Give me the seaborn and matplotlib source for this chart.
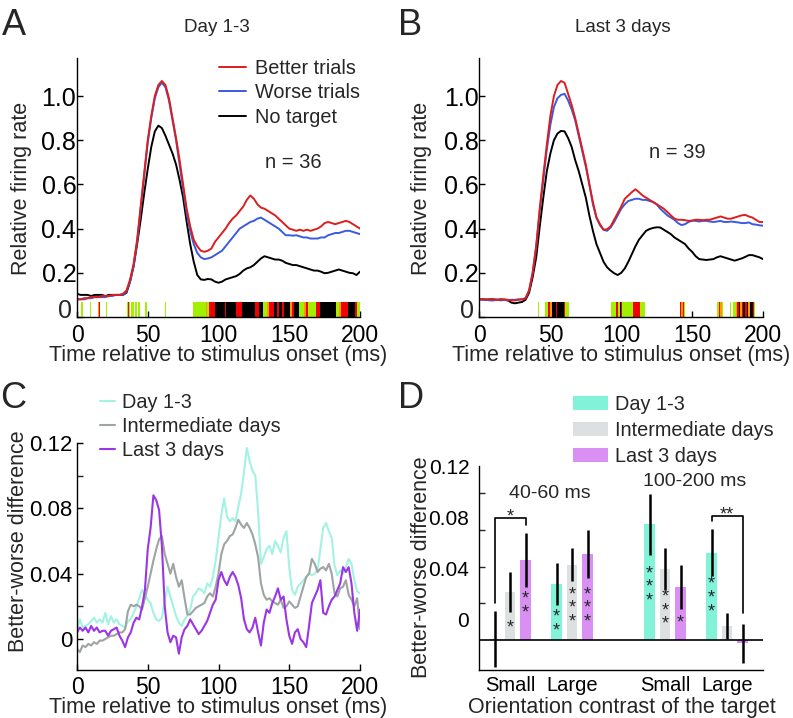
import numpy as np
import pandas as pd
import matplotlib
matplotlib.use("Agg")
import matplotlib.pyplot as plt
import seaborn as sns
from matplotlib.patches import Patch
from matplotlib.lines import Line2D

# ---------------- data ----------------
t_ab = np.arange(0, 200.1, 2.5)   # ms grid for panels A and B
t_c = np.arange(0, 200.1, 2.0)    # ms grid for panel C

a_better = [0.080,0.080,0.085,0.085,0.090,0.090,0.090,0.095,0.095,0.095,
            0.100,0.100,0.100,0.105,0.120,0.170,0.240,0.350,0.500,0.650,
            0.800,0.910,1.000,1.050,1.068,1.050,0.990,0.900,0.810,0.710,
            0.600,0.490,0.410,0.350,0.320,0.300,0.295,0.300,0.310,0.340,
            0.360,0.380,0.400,0.425,0.445,0.460,0.480,0.500,0.530,0.550,
            0.535,0.510,0.495,0.490,0.480,0.470,0.460,0.445,0.430,0.415,
            0.400,0.395,0.390,0.395,0.390,0.395,0.390,0.395,0.400,0.410,
            0.425,0.430,0.425,0.420,0.425,0.430,0.435,0.430,0.420,0.410,
            0.400]
a_worse = [0.080,0.080,0.080,0.085,0.085,0.090,0.090,0.090,0.090,0.095,
           0.095,0.100,0.100,0.100,0.115,0.160,0.230,0.340,0.490,0.640,
           0.790,0.900,0.990,1.040,1.060,1.040,0.980,0.890,0.800,0.690,
           0.580,0.470,0.390,0.330,0.290,0.270,0.262,0.265,0.270,0.280,
           0.290,0.300,0.320,0.340,0.360,0.380,0.400,0.410,0.420,0.430,
           0.435,0.445,0.450,0.440,0.430,0.420,0.410,0.400,0.385,0.370,
           0.370,0.368,0.370,0.365,0.360,0.360,0.355,0.355,0.355,0.360,
           0.360,0.370,0.375,0.380,0.380,0.385,0.390,0.390,0.385,0.380,
           0.375]
a_notarget = [0.105,0.100,0.100,0.100,0.095,0.100,0.100,0.100,0.095,0.100,
              0.100,0.100,0.100,0.100,0.110,0.160,0.230,0.330,0.440,0.560,
              0.670,0.770,0.840,0.866,0.855,0.820,0.780,0.740,0.690,0.620,
              0.540,0.430,0.330,0.250,0.190,0.170,0.168,0.172,0.170,0.160,
              0.155,0.160,0.170,0.175,0.180,0.185,0.195,0.210,0.220,0.225,
              0.235,0.250,0.265,0.275,0.270,0.265,0.260,0.260,0.255,0.245,
              0.240,0.235,0.235,0.230,0.225,0.220,0.215,0.210,0.210,0.205,
              0.198,0.200,0.205,0.210,0.215,0.210,0.205,0.200,0.198,0.190,
              0.205]

b_better = [0.080,0.080,0.080,0.080,0.078,0.078,0.078,0.080,0.078,0.075,
            0.075,0.078,0.080,0.085,0.120,0.200,0.320,0.490,0.640,0.780,
            0.910,1.000,1.050,1.068,1.060,1.010,0.960,0.900,0.830,0.760,
            0.690,0.600,0.520,0.450,0.420,0.395,0.397,0.410,0.440,0.470,
            0.500,0.535,0.550,0.565,0.578,0.565,0.550,0.540,0.530,0.520,
            0.510,0.500,0.490,0.475,0.460,0.445,0.440,0.440,0.438,0.435,
            0.436,0.440,0.440,0.438,0.440,0.440,0.445,0.450,0.455,0.450,
            0.445,0.445,0.450,0.455,0.460,0.462,0.455,0.450,0.440,0.430,
            0.430]
b_worse = [0.080,0.078,0.078,0.075,0.075,0.078,0.075,0.078,0.075,0.078,
           0.078,0.080,0.080,0.085,0.120,0.200,0.320,0.480,0.620,0.760,
           0.870,0.950,0.990,1.005,1.010,0.980,0.940,0.890,0.820,0.750,
           0.680,0.600,0.510,0.450,0.415,0.395,0.390,0.405,0.430,0.460,
           0.490,0.510,0.525,0.530,0.535,0.535,0.530,0.530,0.525,0.520,
           0.510,0.490,0.475,0.460,0.450,0.440,0.425,0.416,0.420,0.430,
           0.436,0.435,0.432,0.435,0.435,0.432,0.430,0.432,0.435,0.430,
           0.430,0.432,0.430,0.428,0.425,0.425,0.428,0.420,0.418,0.415,
           0.413]
b_notarget = [0.080,0.080,0.078,0.080,0.080,0.078,0.080,0.078,0.075,0.065,
              0.062,0.065,0.068,0.078,0.110,0.180,0.270,0.410,0.540,0.660,
              0.740,0.800,0.830,0.842,0.840,0.810,0.770,0.710,0.660,0.600,
              0.540,0.460,0.390,0.330,0.290,0.250,0.225,0.210,0.198,0.190,
              0.200,0.220,0.250,0.285,0.320,0.350,0.370,0.390,0.398,0.403,
              0.406,0.405,0.395,0.385,0.375,0.360,0.350,0.340,0.330,0.310,
              0.295,0.275,0.262,0.260,0.258,0.260,0.262,0.270,0.275,0.270,
              0.265,0.260,0.255,0.260,0.265,0.272,0.280,0.280,0.275,0.270,
              0.262]

# significance strips (start ms, end ms, colour code)
a_strip = [(3.0,4.0,'g'),(9.3,10.2,'g'),(14.8,15.2,'o'),(15.2,16.0,'r'),(20.6,21.4,'g'),
           (35.0,35.8,'g'),(35.8,36.5,'r'),(36.5,37.6,'g'),(38.5,40.3,'g'),(40.9,42.3,'g'),
           (43.0,44.4,'g'),(47.8,49.2,'g'),(61.9,62.6,'g'),
           (82.0,91.4,'g'),(91.4,92.2,'o'),(92.2,93.0,'g'),(93.0,97.5,'r'),
           (97.5,104.5,'k'),(104.5,105.3,'r'),(105.3,112.5,'k'),(112.5,116.5,'r'),
           (116.5,125.5,'k'),(125.5,128.8,'r'),(128.8,131.5,'k'),(131.5,134.5,'g'),
           (134.5,135.5,'o'),(135.5,139.5,'r'),(139.5,141.0,'k'),(141.0,142.5,'r'),
           (142.5,145.0,'k'),(145.0,146.5,'r'),(146.5,150.5,'k'),(150.5,152.0,'o'),
           (152.0,153.5,'r'),(153.5,157.0,'k'),(157.0,160.5,'g'),(160.5,161.5,'o'),
           (161.5,163.5,'r'),(163.5,169.0,'g'),(169.0,172.0,'r'),(172.0,183.0,'k'),
           (183.0,185.5,'g'),(185.5,186.5,'o'),(186.5,191.5,'r'),(191.5,196.5,'k'),
           (196.5,198.0,'r'),(198.0,200.5,'g')]
b_strip = [(41.0,42.0,'g'),(46.0,48.5,'g'),(48.5,49.5,'r'),(49.5,51.0,'o'),(51.0,54.0,'k'),
           (54.0,54.8,'r'),(54.8,59.5,'k'),(59.5,60.5,'r'),(60.5,63.0,'g'),
           (93.0,96.5,'g'),(96.5,97.5,'r'),(97.5,99.0,'g'),(99.0,99.8,'k'),(99.8,100.8,'r'),
           (100.8,108.5,'g'),(108.5,113.0,'r'),(113.0,117.0,'g'),
           (141.3,142.3,'r'),(142.3,143.5,'o'),(143.5,144.3,'r'),(144.3,145.3,'g'),
           (167.3,168.8,'g'),(168.8,170.0,'r'),(170.0,171.0,'o'),(171.0,172.0,'g'),
           (176.8,177.6,'g'),(178.8,180.8,'g'),(180.8,181.8,'o'),(181.8,183.0,'r'),
           (183.0,184.0,'k'),(184.0,185.0,'o'),(185.0,186.2,'r'),(186.2,187.2,'k'),
           (187.2,188.4,'r'),(188.4,189.6,'k'),(189.6,190.6,'o'),(190.6,192.6,'k'),
           (192.6,193.6,'r'),(193.6,194.6,'g')]

c_day13 = [0.006,0.012,0.007,0.008,0.009,0.011,0.013,0.010,0.012,0.010,
           0.016,0.009,0.014,0.010,0.012,0.009,0.008,0.007,0.011,0.012,
           0.016,0.020,0.025,0.030,0.027,0.024,0.022,0.016,0.012,0.011,
           0.013,0.024,0.032,0.026,0.020,0.014,0.010,0.008,0.012,0.014,
           0.018,0.026,0.028,0.031,0.030,0.028,0.034,0.032,0.038,0.048,
           0.062,0.076,0.086,0.075,0.072,0.074,0.072,0.081,0.089,0.102,
           0.117,0.109,0.103,0.100,0.078,0.046,0.050,0.055,0.057,0.052,
           0.060,0.057,0.053,0.062,0.066,0.044,0.030,0.027,0.032,0.034,
           0.036,0.038,0.040,0.039,0.040,0.042,0.055,0.068,0.071,0.066,
           0.062,0.045,0.039,0.042,0.040,0.044,0.049,0.046,0.036,0.029,
           0.028]
c_inter = [-0.006,-0.008,-0.004,-0.005,-0.003,-0.004,-0.002,-0.003,-0.001,-0.001,
           0.000,0.001,0.002,0.002,0.003,0.004,0.004,0.006,0.017,0.021,
           0.020,0.021,0.020,0.018,0.025,0.032,0.040,0.048,0.055,0.061,
           0.063,0.052,0.046,0.040,0.046,0.038,0.032,0.036,0.025,0.015,
           0.015,0.017,0.019,0.020,0.021,0.022,0.026,0.028,0.026,0.032,
           0.040,0.052,0.058,0.060,0.063,0.064,0.068,0.073,0.070,0.068,
           0.071,0.068,0.064,0.058,0.050,0.034,0.027,0.024,0.025,0.023,
           0.022,0.021,0.024,0.019,0.020,0.023,0.021,0.019,0.020,0.026,
           0.032,0.038,0.040,0.049,0.046,0.041,0.043,0.044,0.042,0.046,
           0.040,0.028,0.026,0.031,0.032,0.036,0.027,0.024,0.020,0.025,
           0.006]
c_last3 = [0.004,0.007,0.005,0.007,0.004,0.008,0.005,0.007,0.004,0.005,
           0.005,0.002,0.005,0.006,0.007,0.002,-0.001,-0.005,0.001,0.004,
           0.010,0.013,0.012,0.020,0.030,0.055,0.068,0.088,0.085,0.079,
           0.057,0.020,0.004,-0.002,0.002,0.001,-0.009,0.001,0.006,0.008,
           0.012,0.009,0.006,0.003,0.005,0.008,0.011,0.016,0.021,0.024,
           0.036,0.041,0.036,0.033,0.038,0.041,0.038,0.033,0.025,0.012,
           0.006,0.004,0.007,0.013,0.004,-0.004,0.010,0.018,0.016,0.022,
           0.026,0.031,0.024,0.026,0.012,0.002,-0.003,0.004,0.006,0.000,
           -0.002,-0.005,0.008,0.022,0.026,0.030,0.036,0.016,0.015,0.020,
           0.024,0.026,0.030,0.034,0.044,0.041,0.044,0.034,0.016,0.005,
           0.018]

d_groups = ["Small", "Large", "Small", "Large"]
d_windows = ["40-60 ms", "100-200 ms"]
d_day13 = [-0.015, 0.028, 0.0746, 0.0525]
d_inter = [0.0216, 0.0429, 0.0397, -0.0047]
d_last3 = [0.0468, 0.0514, 0.0255, -0.0182]
e_day13 = [0.022, 0.0167, 0.0236, 0.0182]
e_inter = [0.0155, 0.0128, 0.016, 0.0104]
e_last3 = [0.0208, 0.0186, 0.017, 0.0151]
d_baseline = -0.0156
stars_n = {"day13": [0, 2, 3, 3], "inter": [1, 3, 3, 0], "last3": [2, 3, 1, 0]}
stars_y = {"day13": [0, 0.0013, 0.0299, 0.0218],
           "inter": [-0.002, 0.0135, 0.0117, 0],
           "last3": [0.0156, 0.0135, 0.0018, 0]}

# ---------------- style ----------------
sns.set_theme(style="ticks")
plt.rcParams['font.family'] = ['Liberation Sans', 'DejaVu Sans']
plt.rcParams['axes.linewidth'] = 1.0
plt.rcParams['axes.edgecolor'] = 'black'

RED, BLUE, BLACK = "#dc1e1e", "#3a5ae0", "#000000"
CYAN, GRAY, PURPLE = "#a3f2e2", "#9ea3a3", "#9b35e6"
B_CYAN, B_GRAY, B_PURPLE = "#82f2d8", "#dde0e1", "#d990f2"
STRIP_COL = {'g': "#a2f000", 'r': "#f00000", 'k': "#000000", 'o': "#ff9a00"}
STAR_FS = 13

W, H = 793, 718
fig = plt.figure(figsize=(W / 100, H / 100), dpi=100)


def box(l, t, r, b):
    return [l / W, 1 - b / H, (r - l) / W, (b - t) / H]


def P(x, y):
    return (x / W, 1 - y / H)


def base_style(ax, xls, yls, xpad, ypad):
    sns.despine(ax=ax)
    ax.tick_params(direction='in', length=4, width=1, colors='black')
    ax.tick_params(axis='x', labelsize=xls, pad=xpad)
    ax.tick_params(axis='y', labelsize=yls, pad=ypad)
    ax.set_xlabel("")
    ax.set_ylabel("")
    ax.grid(False)


def response_panel(ax, better, worse, notarget, strip):
    df = pd.DataFrame({
        "t": np.concatenate([t_ab, t_ab, t_ab]),
        "v": np.concatenate([notarget, worse, better]),
        "s": ["No target"] * len(t_ab) + ["Worse trials"] * len(t_ab) + ["Better trials"] * len(t_ab),
    })
    sns.lineplot(data=df, x="t", y="v", hue="s",
                 palette={"No target": BLACK, "Worse trials": BLUE, "Better trials": RED},
                 lw=1.4, legend=False, ax=ax, estimator=None)
    ax.broken_barh([(s, e - s) for s, e, c in strip], (0.0, 0.068),
                   facecolors=[STRIP_COL[c] for s, e, c in strip], edgecolor='none', zorder=1)
    ax.set_xlim(0, 200)
    ax.set_ylim(0, 1.172)
    ax.set_xticks([0, 50, 100, 150, 200])
    ax.set_yticks([0, 0.2, 0.4, 0.6, 0.8, 1.0])
    # the "0" of the y axis sits a little up and left, clear of the x-axis "0"
    ax.set_yticklabels(["", "0.2", "0.4", "0.6", "0.8", "1.0"])
    base_style(ax, 16.5, 18, 5, 0.5)
    ax.annotate("0", xy=(0, 0), xytext=(-3.6, 4.2), textcoords='offset points',
                ha='right', va='center', fontsize=18)


# ---------------- panel A & B ----------------
axA = fig.add_axes(box(77, 58, 360, 317))
response_panel(axA, a_better, a_worse, a_notarget, a_strip)
axB = fig.add_axes(box(479.5, 58, 763, 317))
response_panel(axB, b_better, b_worse, b_notarget, b_strip)

fig.legend([Line2D([], [], color=c, lw=1.4) for c in (RED, BLUE, BLACK)],
           ["Better trials", "Worse trials", "No target"],
           loc='upper left', bbox_to_anchor=P(219, 59), frameon=False, fontsize=14.3,
           handlelength=1.35, handletextpad=0.45, labelspacing=0.27,
           borderpad=0, borderaxespad=0)

# ---------------- panel C ----------------
axC = fig.add_axes(box(77, 443, 360, 670))
dfc = pd.DataFrame({
    "t": np.concatenate([t_c, t_c, t_c]),
    "v": np.concatenate([c_day13, c_inter, c_last3]),
    "s": ["Day 1-3"] * len(t_c) + ["Intermediate days"] * len(t_c) + ["Last 3 days"] * len(t_c),
})
sns.lineplot(data=dfc, x="t", y="v", hue="s",
             palette={"Day 1-3": CYAN, "Intermediate days": GRAY, "Last 3 days": PURPLE},
             lw=1.5, legend=False, ax=axC, estimator=None)
axC.set_xlim(0, 200)
axC.set_ylim(-0.019, 0.12)
axC.set_xticks([0, 50, 100, 150, 200])
axC.set_yticks([0, 0.04, 0.08, 0.12])
axC.set_yticklabels(["0", "0.04", "0.08", "0.12"])
axC.set_yticks([0.02, 0.06, 0.10], minor=True)
base_style(axC, 16.5, 16, 4, 3.5)
axC.tick_params(which='minor', direction='in', length=4, width=1, left=True)
fig.legend([Line2D([], [], color=c, lw=1.5) for c in (CYAN, GRAY, PURPLE)],
           ["Day 1-3", "Intermediate days", "Last 3 days"],
           loc='upper left', bbox_to_anchor=P(100, 393), frameon=False, fontsize=14.3,
           handlelength=0.75, handletextpad=0.35, labelspacing=0.24,
           borderpad=0, borderaxespad=0)

# ---------------- panel D ----------------
axD = fig.add_axes(box(479, 466, 763, 670))
centers = np.array([1.0, 3.0, 6.0, 8.0])
offs = {"day13": -0.5, "inter": 0.0, "last3": 0.5}
series = [("day13", d_day13, e_day13, B_CYAN),
          ("inter", d_inter, e_inter, B_GRAY),
          ("last3", d_last3, e_last3, B_PURPLE)]
for key, vals, errs, col in series:
    xs = centers + offs[key]
    vals = np.array(vals)
    errs = np.array(errs)
    axD.bar(xs, vals - d_baseline, bottom=d_baseline, width=0.35, color=col,
            edgecolor='none', zorder=2)
    axD.vlines(xs, vals - errs, vals + errs, color='black', lw=1.8, zorder=3)
    for x, n, yc in zip(xs, stars_n[key], stars_y[key]):
        if n == 0:
            continue
        axD.annotate("\n".join(["*"] * n), xy=(x, yc), xytext=(0, -0.32 * STAR_FS),
                     textcoords='offset points', ha='center', va='center',
                     multialignment='center', linespacing=0.75, fontsize=STAR_FS, zorder=4)
axD.axhline(d_baseline, color='black', lw=1.2, zorder=3)
# significance brackets
axD.plot([0.5, 0.5, 1.5, 1.5], [0.0135, 0.0795, 0.0795, 0.074], color='black', lw=1.2)
axD.plot([7.5, 7.5, 8.5, 8.5], [0.077, 0.0813, 0.0813, 0.0055], color='black', lw=1.2)
axD.annotate('*', xy=(1.0, 0.0845), xytext=(0, -0.32 * STAR_FS), textcoords='offset points',
             ha='center', va='center', fontsize=STAR_FS)
axD.annotate('**', xy=(8.0, 0.0863), xytext=(0, -0.32 * STAR_FS), textcoords='offset points',
             ha='center', va='center', fontsize=STAR_FS)
axD.text(2.28, 0.0987, d_windows[0], ha='center', va='center', fontsize=14)
axD.text(6.96, 0.1078, d_windows[1], ha='center', va='center', fontsize=14)
axD.set_xlim(0, 9.16)
axD.set_ylim(-0.039, 0.12)
axD.set_xticks(centers)
axD.set_xticklabels(d_groups)
axD.set_yticks([0, 0.04, 0.08, 0.12])
axD.set_yticklabels(["0", "0.04", "0.08", "0.12"])
# tick marks of the reference sit on their own spacing, apart from the labels
axD.set_yticks([0.0130, 0.0415, 0.0701, 0.0988], minor=True)
base_style(axD, 14.5, 15, 5, 5)
axD.tick_params(axis='x', length=0, pad=4.5)
axD.tick_params(axis='y', which='major', length=0, pad=7)
axD.tick_params(which='minor', direction='in', length=4, width=1, left=True)
fig.legend([Patch(facecolor=c, edgecolor='none') for c in (B_CYAN, B_GRAY, B_PURPLE)],
           ["Day 1-3", "Intermediate days", "Last 3 days"],
           loc='upper left', bbox_to_anchor=P(573, 395), frameon=False, fontsize=14.3,
           handlelength=1.76, handleheight=0.7, handletextpad=0.35, labelspacing=0.35,
           borderpad=0, borderaxespad=0)

# ---------------- texts ----------------
fig.text(*P(2, 35), "A", fontsize=26, ha='left', va='baseline')
fig.text(*P(398, 35), "B", fontsize=26, ha='left', va='baseline')
fig.text(*P(0, 408), "C", fontsize=26, ha='left', va='baseline')
fig.text(*P(398, 408), "D", fontsize=26, ha='left', va='baseline')
fig.text(*P(217, 27), "Day 1-3", fontsize=13.5, ha='center', va='center')
fig.text(*P(623, 27), "Last 3 days", fontsize=13.5, ha='center', va='center')
fig.text(*P(293, 163), "n = 36", fontsize=14.5, ha='center', va='center')
fig.text(*P(677, 152), "n = 39", fontsize=14.5, ha='center', va='center')
for xc in (21.5, 421.5):
    fig.text(*P(xc, 188), "Relative firing rate", rotation=90, fontsize=15.5,
             ha='center', va='center')
fig.text(*P(19, 541), "Better-worse difference", rotation=90, fontsize=15.5,
         ha='center', va='center')
fig.text(*P(421.5, 567), "Better-worse difference", rotation=90, fontsize=15.5,
         ha='center', va='center')
for xc in (218, 621):
    fig.text(*P(xc, 361), "Time relative to stimulus onset (ms)", fontsize=15.5,
             ha='center', va='baseline')
fig.text(*P(218, 713), "Time relative to stimulus onset (ms)", fontsize=15.5,
         ha='center', va='baseline')
fig.text(*P(621.5, 712.5), "Orientation contrast of the target", fontsize=15.5,
         ha='center', va='baseline')

fig.savefig("out.png", dpi=100)
